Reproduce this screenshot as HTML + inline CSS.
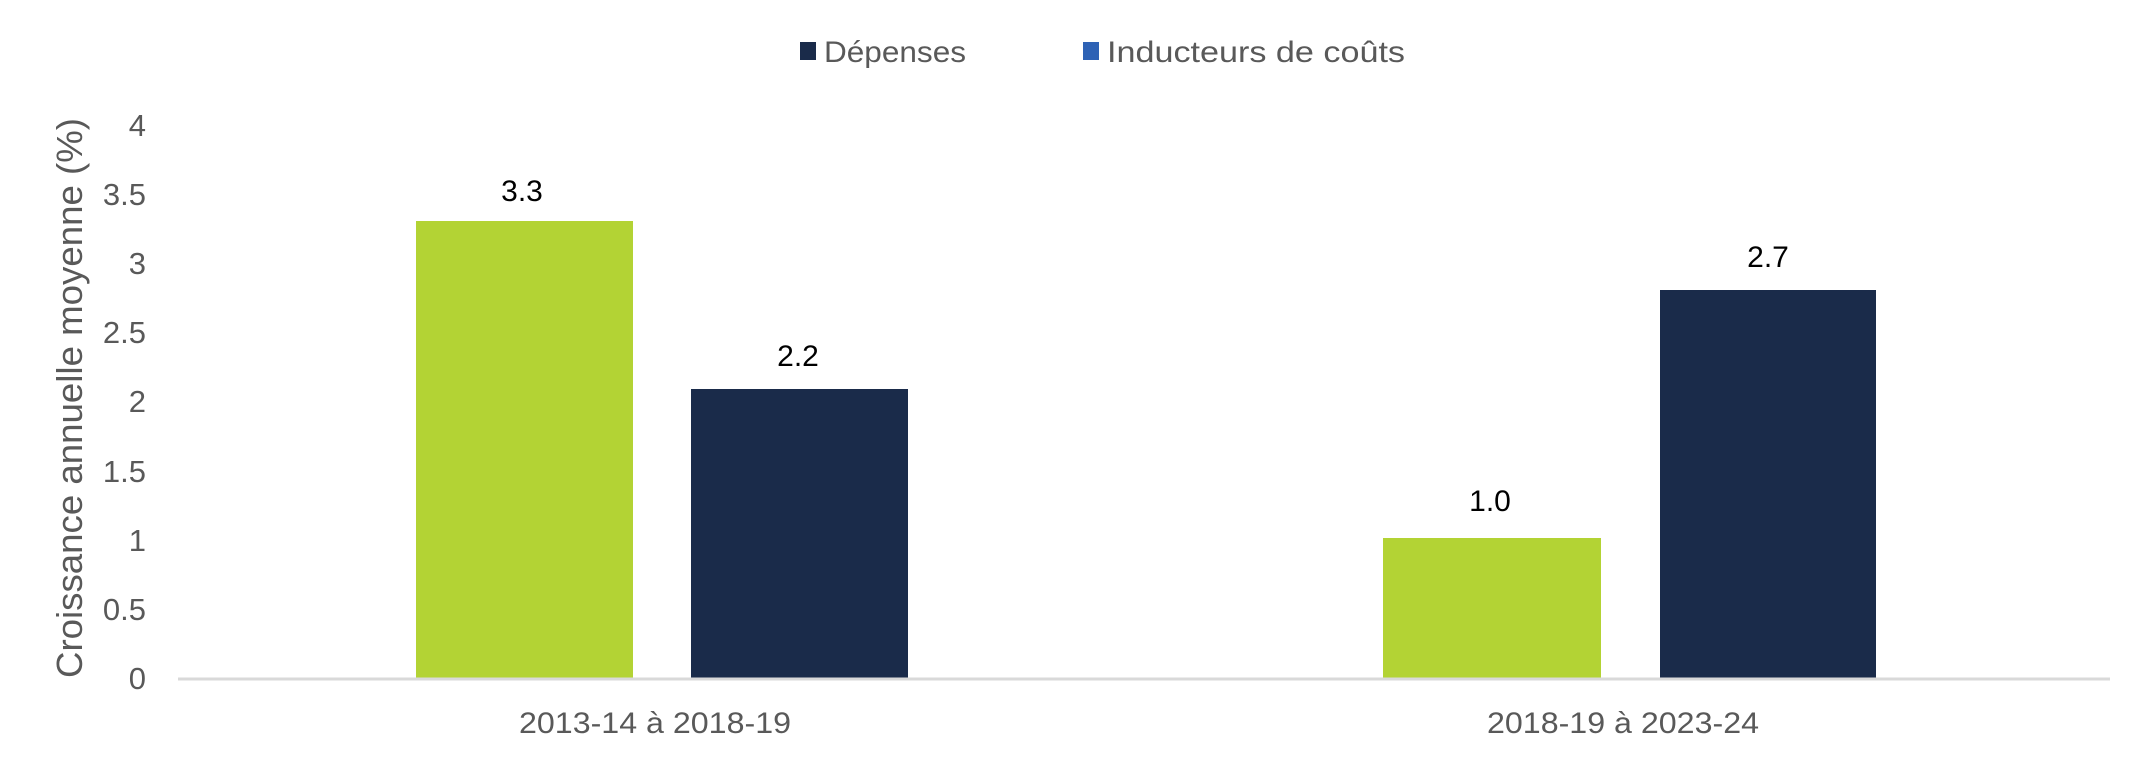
<!DOCTYPE html>
<html><head><meta charset="utf-8"><style>
html,body{margin:0;padding:0;background:#fff;}
svg text{font-family:"Liberation Sans",sans-serif;}
</style></head><body>
<svg width="2153" height="767" xmlns="http://www.w3.org/2000/svg">
<rect x="800" y="42" width="16" height="18" fill="#1a2b4a"/>
<text x="824" y="62" font-size="30" fill="#595959" textLength="142" lengthAdjust="spacingAndGlyphs">Dépenses</text>
<rect x="1083" y="42" width="16" height="18" fill="#2e62b5"/>
<text x="1107" y="62" font-size="30" fill="#595959" textLength="298" lengthAdjust="spacingAndGlyphs">Inducteurs de coûts</text>
<g font-size="31" fill="#595959" text-anchor="end">
<text x="146" y="689">0</text>
<text x="146" y="620">0.5</text>
<text x="146" y="551">1</text>
<text x="146" y="482">1.5</text>
<text x="146" y="412">2</text>
<text x="146" y="343">2.5</text>
<text x="146" y="274">3</text>
<text x="146" y="205">3.5</text>
<text x="146" y="136">4</text>
</g>
<text transform="translate(82,398) rotate(-90)" font-size="36" fill="#595959" text-anchor="middle" textLength="560" lengthAdjust="spacingAndGlyphs">Croissance annuelle moyenne (%)</text>
<rect x="416" y="221" width="217" height="457" fill="#b3d334"/>
<rect x="691" y="389" width="217" height="289" fill="#1a2b4a"/>
<rect x="1383" y="538" width="218" height="140" fill="#b3d334"/>
<rect x="1660" y="290" width="216" height="388" fill="#1a2b4a"/>
<line x1="178" y1="679" x2="2110" y2="679" stroke="#d9d9d9" stroke-width="3"/>
<g font-size="30" fill="#000" text-anchor="middle">
<text x="522" y="201">3.3</text>
<text x="798" y="366">2.2</text>
<text x="1490" y="511">1.0</text>
<text x="1768" y="267">2.7</text>
</g>
<g font-size="30" fill="#595959" text-anchor="middle">
<text x="655" y="733" textLength="272" lengthAdjust="spacingAndGlyphs">2013-14 à 2018-19</text>
<text x="1623" y="733" textLength="272" lengthAdjust="spacingAndGlyphs">2018-19 à 2023-24</text>
</g>
</svg>
</body></html>
